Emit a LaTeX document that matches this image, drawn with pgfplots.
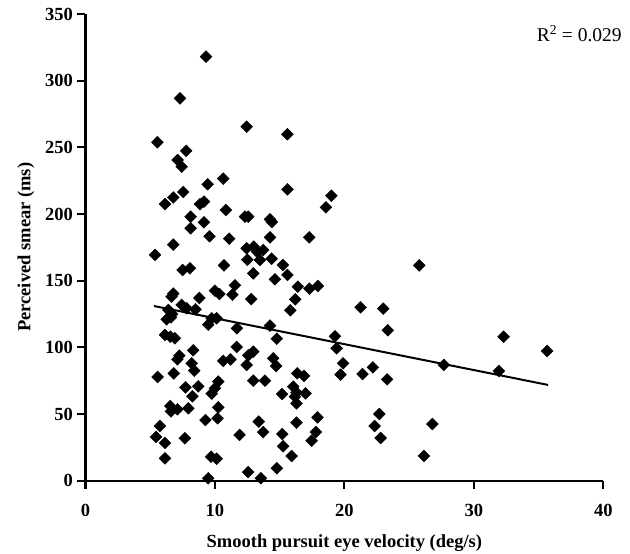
\documentclass[border=0pt]{standalone}
\usepackage{fontspec}
\setmainfont{Liberation Serif}
\usepackage{pgfplots}
\usepackage{pgfplotstable}
\pgfplotsset{compat=1.18}
\pgfplotstableread{
x y
9.31 318
7.3 286.7
12.45 265.5
15.6 259.8
5.55 253.8
7.78 247.4
7.12 240.5
7.43 235.5
10.64 226.5
9.44 222.3
15.6 218.5
7.55 216.5
6.78 212.4
6.14 207.4
8.84 207.4
9.15 209.3
10.85 203
8.12 198
9.15 193.8
12.32 198
12.57 198
14.25 196
14.4 194
19.0 213.7
18.57 205
8.12 189.3
9.58 183.3
11.1 181.5
14.25 182.5
17.28 182.5
6.78 177
5.37 169.3
12.45 174.3
13.0 175.5
13.25 171.7
13.73 173
12.5 165.7
13.47 165.5
14.38 166.5
15.25 161.8
7.5 158
8.07 159.3
10.7 161.5
12.96 155.5
15.6 154.3
14.63 151
16.4 145.5
17.3 144
17.95 146
6.78 140.3
6.65 138
8.8 137
10.0 142.5
10.35 140
11.54 146.5
11.35 139.5
12.8 136.2
16.2 136
15.82 127.8
7.43 131.8
7.81 129.3
8.5 128.5
6.4 128
6.7 125
6.27 121
6.6 122.5
9.75 121.8
10.13 121.8
9.48 117
11.7 114.3
14.25 116.3
14.78 106.5
6.14 109.3
6.55 108
6.9 106.8
11.68 100.3
8.32 97.8
7.25 93.8
7.1 91
10.64 89.8
11.2 91
12.57 94
12.96 96.8
12.45 86.8
14.5 91.8
14.73 86
8.2 88
8.4 82.5
5.57 77.8
6.82 80.5
16.35 80.5
16.88 78.6
7.72 70
8.71 70.8
8.26 63.3
10.26 74.3
10.0 69.3
9.75 65.3
12.96 75
13.86 75
16.05 70.5
16.3 66
16.18 63
17.0 65.5
15.18 65
16.3 58
6.55 56
6.6 52
7.1 53.5
7.94 54.3
10.26 55
10.2 46.8
9.27 45.5
17.92 47.5
13.38 44.3
16.3 43.5
5.75 41
5.45 32.8
6.14 28.3
7.68 31.8
11.9 34.3
13.73 36.5
15.2 35
15.27 25.8
17.8 36.5
17.47 30
6.14 16.8
9.7 18
10.13 16.5
15.92 18.5
12.57 6.5
14.78 9.3
9.48 1.8
13.55 1.8
25.78 161.5
21.25 130
23.0 129
23.35 112.8
19.27 108.3
19.4 99.3
32.3 108
35.66 97.3
19.9 88
19.7 79.5
27.68 86.8
31.93 82.3
21.4 80
22.2 85
23.3 76
22.7 50
22.33 41
22.8 32
26.8 42.5
26.14 18.6
}\scatterdata
\begin{document}
\begin{tikzpicture}
\path[use as bounding box] (-85.5pt,-73.3pt) rectangle (544.5pt,480.7pt);
\begin{axis}[
  at={(0,0)}, anchor=south west,
  scale only axis,
  width=517.8pt, height=466.7pt,
  xmin=0, xmax=40, ymin=0, ymax=350,
  xtick={0,10,20,30,40},
  ytick={0,50,100,150,200,250,300,350},
  axis lines=left,
  axis line style={line width=2.2pt, -},
  tick align=outside,
  major tick length=8pt,
  tick style={line width=2.2pt, black},
  /pgf/number format/assume math mode=true,
  ticklabel style={font=\fontsize{18.5}{20}\selectfont\bfseries},
  xticklabel style={yshift=-12pt},
  yticklabel style={xshift=-1pt},
  clip=false,
  every axis y label/.style={at={(axis description cs:0,0.5)}, rotate=90, anchor=center, yshift=59.5pt, font=\fontsize{18.5}{20}\selectfont\bfseries},
  every axis x label/.style={at={(axis description cs:0.5,0)}, anchor=base, yshift=-67.3pt, font=\fontsize{18.5}{20}\selectfont\bfseries},
  xlabel={Smooth pursuit eye velocity (deg/s)},
  ylabel={Perceived smear (ms)},
]
\addplot[only marks, mark=square*, mark size=4.2pt, mark options={rotate=45, fill=black, draw=black, line width=0.4pt}] table[x=x,y=y] {\scatterdata};
\addplot[black, line width=2pt, no marks] coordinates {(5.29,131) (35.74,71.8)};
\node[anchor=base east, font=\fontsize{19.5}{22}\selectfont, inner sep=0pt] at (rel axis cs:1.036,0.9407) {R\textsuperscript{2} = 0.029};
\end{axis}
\end{tikzpicture}
\end{document}
